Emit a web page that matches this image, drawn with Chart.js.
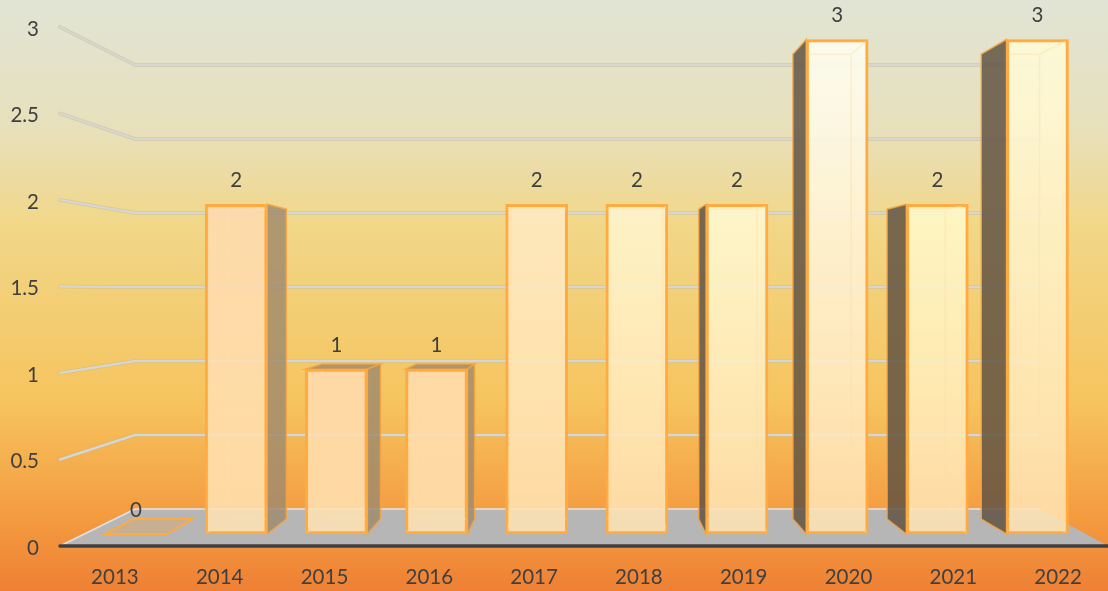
<!DOCTYPE html>
<html>
<head>
<meta charset="utf-8">
<title>Chart</title>
<script src="https://cdn.jsdelivr.net/npm/chart.js@4"></script>
<style>
  html, body { margin: 0; padding: 0; }
  body {
    width: 1108px; height: 591px; overflow: hidden;
    background: linear-gradient(180deg, #e1e4d5 0%, #e8e0bb 22%, #f1d788 38%, #f6c45e 68%, #f49a3f 88%, #ee8034 100%);
  }
  canvas { display: block; }
</style>
</head>
<body>
<canvas id="chart" width="1108" height="591"></canvas>
<script>
const years = ['2013', '2014', '2015', '2016', '2017', '2018', '2019', '2020', '2021', '2022'];
const values = [0, 2, 1, 1, 2, 2, 2, 3, 2, 3];
const yTicks = [0, 0.5, 1, 1.5, 2, 2.5, 3];

// top colour of each front face, the glass gets paler towards the right
const barTints = ['#ffdab0', '#ffdab0', '#ffdab0', '#ffdcb0', '#ffebc4', '#fff7d0', '#fffbd4', '#fffff2', '#fffbcc', '#fffcd8'];

const textColor = '#404040';
const fontFamily = 'Lato, "Open Sans", sans-serif';
const fontSize = 20.5;
const edgeColor = '#ffab42';
const sideEdge = 'rgba(245,165,65,0.85)';
const plotTop = 27;

// fake perspective: the back of the box is the front pulled towards this point
const vanish = { x: 586, y: 285 };
const depth = 0.94;
const backX = (x) => vanish.x + depth * (x - vanish.x);
const backY = (y) => vanish.y + depth * (y - vanish.y);

function poly(ctx, pts) {
  ctx.beginPath();
  pts.forEach((p, i) => (i ? ctx.lineTo(p[0], p[1]) : ctx.moveTo(p[0], p[1])));
  ctx.closePath();
}

function face(ctx, pts, fill) {
  poly(ctx, pts);
  ctx.fillStyle = fill;
  ctx.fill();
  ctx.lineWidth = 1.5;
  ctx.strokeStyle = sideEdge;
  ctx.stroke();
}

const room = {
  id: 'room',
  // layout stops the plot a few px lower than the picture needs, so pull the vertical scales up
  afterLayout(chart) {
    const a = chart.chartArea;
    a.top = plotTop;
    a.height = a.bottom - plotTop;
    ['y', 'yBar', 'yWall'].forEach((id) => {
      const s = chart.scales[id];
      s.top = plotTop;
      s.height = s.bottom - plotTop;
      s.configure();
    });
  },
  beforeDatasetsDraw(chart) {
    const { ctx, chartArea: a, scales } = chart;
    const wallLeft = 135;
    const wallRight = a.right - 68;
    const base = scales.y.getPixelForValue(0);
    const wallBase = scales.yWall.getPixelForValue(0);

    ctx.save();
    ctx.lineCap = 'round';
    yTicks.filter((v) => v > 0).forEach((v) => {
      const pts = [[a.left, scales.y.getPixelForValue(v)], [wallLeft, scales.yWall.getPixelForValue(v)], [wallRight, scales.yWall.getPixelForValue(v)]];
      [[3.6, 'rgba(190,175,130,0.55)'], [2.4, '#d6d6d2']].forEach(([w, c]) => {
        ctx.beginPath();
        pts.forEach((p, i) => (i ? ctx.lineTo(p[0], p[1]) : ctx.moveTo(p[0], p[1])));
        ctx.lineWidth = w;
        ctx.strokeStyle = c;
        ctx.stroke();
      });
    });

    // floor
    poly(ctx, [[a.left, base], [wallLeft, wallBase], [wallRight, wallBase], [a.right, base]]);
    ctx.fillStyle = '#b6b6b6';
    ctx.fill();
    ctx.beginPath();
    ctx.moveTo(a.left, base);
    ctx.lineTo(wallLeft, wallBase);
    ctx.lineTo(wallRight, wallBase);
    ctx.lineWidth = 1.5;
    ctx.strokeStyle = '#e4e4e4';
    ctx.stroke();
    ctx.beginPath();
    ctx.moveTo(a.left, base);
    ctx.lineTo(a.right, base);
    ctx.lineWidth = 3.5;
    ctx.strokeStyle = '#3f3f3f';
    ctx.stroke();

    // side faces, taken from the bars chart.js just laid out
    chart.getDatasetMeta(0).data.forEach((bar) => {
      const l = bar.x - bar.width / 2;
      const r = bar.x + bar.width / 2;
      const t = bar.y;
      const b = bar.base;
      if (t === b) {
        poly(ctx, [[l, b], [r, b], [backX(r), backY(b)], [backX(l), backY(b)]]);
        ctx.fillStyle = 'rgba(226,164,92,0.4)';
        ctx.fill();
        ctx.lineWidth = 2;
        ctx.strokeStyle = edgeColor;
        ctx.stroke();
        return;
      }
      if (backY(t) < t - 2) {
        face(ctx, [[l, t], [r, t], [backX(r), backY(t)], [backX(l), backY(t)]], 'rgba(159,138,110,0.82)');
      }
      if (backX(l) < l - 2) {
        face(ctx, [[l, t], [backX(l), backY(t)], [backX(l), backY(b)], [l, b]], 'rgba(97,84,67,0.85)');
      }
      if (backX(r) > r + 2) {
        face(ctx, [[r, t], [backX(r), backY(t)], [backX(r), backY(b)], [r, b]], 'rgba(159,138,110,0.82)');
      }
    });
    ctx.restore();
  },
  afterDatasetsDraw(chart) {
    const { ctx } = chart;
    ctx.save();
    ctx.font = fontSize + 'px ' + fontFamily;
    ctx.textAlign = 'center';
    ctx.textBaseline = 'middle';
    chart.getDatasetMeta(0).data.forEach((bar, i) => {
      const l = bar.x - bar.width / 2;
      const r = bar.x + bar.width / 2;
      const t = bar.y;
      const b = bar.base;
      if (t !== b) {
        // back of the box, seen through the front
        ctx.save();
        ctx.beginPath();
        ctx.rect(l + 1.5, t + 1.5, r - l - 3, b - t - 3);
        ctx.clip();
        ctx.lineWidth = 1.5;
        ctx.strokeStyle = 'rgba(255,222,165,0.45)';
        ctx.beginPath();
        ctx.rect(backX(l), backY(t), backX(r) - backX(l), backY(b) - backY(t));
        ctx.moveTo(l, b); ctx.lineTo(backX(l), backY(b));
        ctx.moveTo(r, b); ctx.lineTo(backX(r), backY(b));
        ctx.moveTo(r, t); ctx.lineTo(backX(r), backY(t));
        ctx.stroke();
        ctx.restore();
      }
      ctx.fillStyle = textColor;
      ctx.fillText(String(values[i]), bar.x, t - 24);
    });
    ctx.restore();
  }
};

new Chart(document.getElementById('chart'), {
  type: 'bar',
  data: {
    labels: years,
    datasets: [{
      data: years.map((y, i) => ({ x: Number(y), y: values[i] })),
      xAxisID: 'xBar',
      yAxisID: 'yBar',
      barThickness: 62,
      borderWidth: 3,
      borderSkipped: false,
      borderColor: edgeColor,
      backgroundColor(c) {
        const { ctx, scales } = c.chart;
        const yBar = scales.yBar;
        if (!yBar || c.dataIndex === undefined) return '#ffe4b4d9';
        const top = yBar.getPixelForValue(values[c.dataIndex]);
        const bottom = yBar.getPixelForValue(0);
        if (!isFinite(top) || !isFinite(bottom)) return '#ffe4b4d9';
        const g = ctx.createLinearGradient(0, top, 0, bottom);
        g.addColorStop(0, barTints[c.dataIndex] + 'd9');
        g.addColorStop(1, '#ffe4b4d9');
        return g;
      }
    }]
  },
  options: {
    responsive: false,
    animation: false,
    events: [],
    layout: { padding: { top: plotTop, left: 0, right: 0, bottom: 0 } },
    plugins: { legend: { display: false }, tooltip: { enabled: false } },
    scales: {
      x: {
        type: 'category',
        position: 'bottom',
        grid: { display: false, drawTicks: false },
        border: { display: false },
        ticks: { color: textColor, font: { family: fontFamily, size: fontSize }, padding: 19, labelOffset: 2.5, maxRotation: 0, autoSkip: false },
        afterFit(s) { s.height = 45; }
      },
      y: {
        min: 0,
        max: 3,
        position: 'left',
        grid: { display: false, drawTicks: false },
        border: { display: false },
        ticks: { stepSize: 0.5, color: textColor, font: { family: fontFamily, size: fontSize }, padding: 21, labelOffset: 2, callback: (v) => String(v) },
        afterFit(s) { s.width = 60; }
      },
      // the bars stand on the front of the floor, a little further in than the axis
      xBar: { type: 'linear', display: false, position: 'bottom', offset: false, grid: { offset: false }, min: 2012.241, max: 2022.704 },
      yBar: { type: 'linear', display: false, position: 'left', min: -0.0728, max: 3.0758 },
      yWall: { type: 'linear', display: false, position: 'left', min: -0.25, max: 3.2568 }
    }
  },
  plugins: [room]
});
</script>
</body>
</html>
